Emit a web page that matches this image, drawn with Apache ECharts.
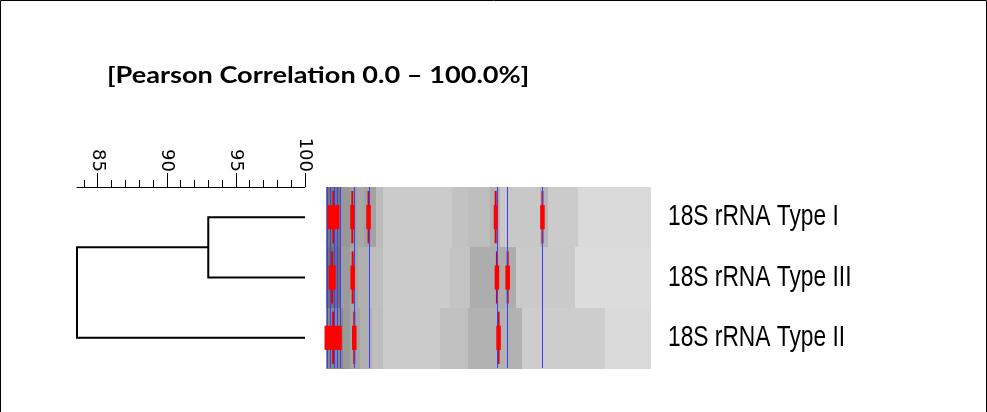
<!DOCTYPE html>
<html>
<head>
<meta charset="utf-8">
<script src="https://cdn.jsdelivr.net/npm/echarts@6/dist/echarts.min.js"></script>
<style>html,body{margin:0;padding:0;background:#fff;overflow:hidden;}#c{width:987px;height:412px;}</style>
</head>
<body>
<div id="c"></div>
<script>
// ---------- data ----------
const titleText = '[Pearson Correlation 0.0 \u2013 100.0%]';
const leafLabels = ['18S rRNA Type I', '18S rRNA Type III', '18S rRNA Type II'];
// hclust-style merges (negative = leaf, 1-based display order; positive = earlier merge)
const mergeRows = [[-1, -2], [1, -3]];
const mergeHeights = [93.0, 83.5];           // similarity (%) of each merge
const scaleMin = 83.5, scaleMax = 100;
const minorTicks = [84, 85, 86, 87, 88, 89, 90, 91, 92, 93, 94, 95, 96, 97, 98, 99, 100];
const majorTicks = [85, 90, 95, 100];

// gel background densitometry: [lane, start %, end %, gray level]
const gelLane0 = [
  [0, 0, 4.6, 120], [0, 4.6, 7.4, 152], [0, 7.4, 9.5, 160], [0, 9.5, 11.7, 168],
  [0, 11.7, 15.4, 162], [0, 15.4, 17.5, 188], [0, 17.5, 38.8, 203], [0, 38.8, 43.7, 194],
  [0, 43.7, 50.5, 189], [0, 50.5, 53.5, 178], [0, 53.5, 65.8, 200], [0, 65.8, 68.3, 182],
  [0, 68.3, 77.5, 203], [0, 77.5, 100, 218]
];
const gelLane1 = [
  [1, 0, 4.6, 112], [1, 4.6, 7.4, 156], [1, 7.4, 9.8, 166], [1, 9.8, 13.5, 176],
  [1, 13.5, 17.5, 190], [1, 17.5, 38.2, 203], [1, 38.2, 44.3, 195], [1, 44.3, 58.5, 173],
  [1, 58.5, 76.6, 202], [1, 76.6, 100, 220]
];
const gelLane2 = [
  [2, 0, 5.2, 136], [2, 5.2, 7.4, 154], [2, 7.4, 10.5, 165], [2, 10.5, 14.2, 176],
  [2, 14.2, 17.5, 189], [2, 17.5, 35.1, 203], [2, 35.1, 43.7, 192], [2, 43.7, 60.3, 178],
  [2, 60.3, 85.8, 205], [2, 85.8, 100, 218]
];
// marked bands: [lane, position %, band width %]
const bands = [
  [0, 2.3, 3.6], [0, 8.1, 1.3], [0, 13.1, 1.4], [0, 52.2, 1.2], [0, 66.6, 1.4],
  [1, 1.9, 2.2], [1, 8.2, 1.4], [1, 52.6, 1.4], [1, 55.9, 1.4],
  [2, 2.2, 5.3], [2, 8.7, 1.4], [2, 53.1, 1.4]
];
// band classes (vertical reference lines), position %
const bandClasses = [0.3, 1.3, 2.4, 3.4, 4.4, 8.5, 13.1, 52.7, 55.8, 66.6];

// ---------- dendrogram segments ----------
function buildDendro() {
  const nodes = [];
  const segs = [];
  function pos(ref) {
    if (ref < 0) return { x: scaleMax, y: (-ref - 1) + 0.5 };
    return nodes[ref - 1];
  }
  mergeRows.forEach((row, i) => {
    const a = pos(row[0]), b = pos(row[1]);
    const h = mergeHeights[i];
    segs.push({ coords: [[a.x, a.y], [h, a.y], [h, b.y], [b.x, b.y]] });
    nodes.push({ x: h, y: (a.y + b.y) / 2 });
  });
  return segs;
}

const chart = echarts.init(document.getElementById('c'), null, { renderer: 'canvas' });

function laneH(api) { return api.size([0, 1])[1]; }

const option = {
  backgroundColor: '#ffffff',
  animation: false,
  tooltip: { show: false },
  grid: [
    { left: 77, top: 187, width: 228, height: 181 },
    { left: 326, top: 187, width: 325, height: 181 }
  ],
  xAxis: [
    { gridIndex: 0, type: 'value', position: 'top', min: scaleMin, max: scaleMax,
      axisLine: { show: true, lineStyle: { color: '#000', width: 1 } },
      axisTick: { show: true, customValues: minorTicks, length: 7, lineStyle: { color: '#000', width: 1 } },
      axisLabel: { show: false }, splitLine: { show: false } },
    { gridIndex: 0, type: 'value', position: 'top', min: scaleMin, max: scaleMax,
      axisLine: { show: false },
      axisTick: { show: true, customValues: majorTicks, length: 14, lineStyle: { color: '#000', width: 1 } },
      axisLabel: { show: true, customValues: majorTicks, rotate: 90, margin: 15,
        fontFamily: 'DejaVu Sans', fontSize: 18, color: '#000', hideOverlap: false },
      splitLine: { show: false } },
    { gridIndex: 1, type: 'value', min: 0, max: 100, show: false }
  ],
  yAxis: [
    { gridIndex: 0, type: 'value', min: 0, max: 3, inverse: true, show: false },
    { gridIndex: 1, type: 'category', data: leafLabels, inverse: true, position: 'right',
      axisLine: { show: false }, axisTick: { show: false }, splitLine: { show: false },
      axisLabel: { show: false } }
  ],
  series: [
    { type: 'lines', coordinateSystem: 'cartesian2d', xAxisIndex: 0, yAxisIndex: 0, polyline: true,
      data: buildDendro(), lineStyle: { color: '#000', width: 2, opacity: 1 }, silent: true, z: 5 },
    { type: 'custom', xAxisIndex: 2, yAxisIndex: 1, encode: { x: [1, 2], y: 0 }, silent: true, z: 1,
      data: gelLane0.concat(gelLane1, gelLane2),
      renderItem: function (params, api) {
        const lane = api.value(0), g = api.value(3);
        const p1 = api.coord([api.value(1), lane]);
        const p2 = api.coord([api.value(2), lane]);
        const h = laneH(api);
        const x1 = Math.round(p1[0]), x2 = Math.round(p2[0]);
        return { type: 'rect', shape: { x: x1, y: Math.round(p1[1] - h / 2), width: x2 - x1, height: Math.round(h) + 1 },
          style: { fill: 'rgb(' + g + ',' + g + ',' + g + ')' } };
      } },
    { type: 'custom', xAxisIndex: 2, yAxisIndex: 1, encode: { x: 1, y: 0 }, silent: true, z: 2,
      data: bands,
      renderItem: function (params, api) {
        const lane = api.value(0);
        const p = api.coord([api.value(1), lane]);
        const h = laneH(api);
        return { type: 'rect', shape: { x: p[0] - 1, y: p[1] - h * 0.433, width: 2, height: h * 0.866 },
          style: { fill: '#e00000' } };
      } },
    { type: 'custom', xAxisIndex: 2, yAxisIndex: 1, encode: { x: 0, y: 1 }, silent: true, z: 3,
      data: bandClasses.map(v => [v, 0]),
      renderItem: function (params, api) {
        const top = api.coord([api.value(0), 0]);
        const bot = api.coord([api.value(0), 2]);
        const h = laneH(api);
        const x = Math.round(top[0]) + 0.5;
        return { type: 'line', shape: { x1: x, y1: top[1] - h / 2, x2: x, y2: bot[1] + h / 2 },
          style: { stroke: '#3c3cff', lineWidth: 1 } };
      } },
    { type: 'custom', xAxisIndex: 2, yAxisIndex: 1, encode: { x: 1, y: 0 }, silent: true, z: 4,
      data: bands,
      renderItem: function (params, api) {
        const lane = api.value(0);
        const p = api.coord([api.value(1), lane]);
        const w = api.size([api.value(2), 0])[0];
        const h = laneH(api);
        return { type: 'rect', shape: { x: p[0] - w / 2, y: p[1] - h * 0.2, width: w, height: h * 0.4 },
          style: { fill: '#ff0000' } };
      } }
  ]
};
chart.setOption(option);

// Text elements: title and lane labels (labels placed at the lane centres from the category axis)
const graphics = [
  { type: 'polyline', shape: { points: [[0.5, 412], [0.5, 0.5], [986.5, 0.5], [986.5, 412]] },
    style: { stroke: '#000', lineWidth: 1, fill: null }, silent: true },
  { type: 'text', x: 107, y: 76, scaleX: 1.18, silent: true,
    style: { text: titleText, font: 'bold 23px Lato', fill: '#000', verticalAlign: 'middle', align: 'left' } }
];
leafLabels.forEach((lab, i) => {
  const p = chart.convertToPixel({ xAxisIndex: 2, yAxisIndex: 1 }, [100, i]);
  graphics.push({ type: 'text', x: p[0] + 17, y: p[1], scaleX: 0.785, silent: true,
    style: { text: lab, font: '29px "Liberation Sans", Arial, sans-serif', fill: '#000', verticalAlign: 'middle', align: 'left' } });
});
chart.setOption({ graphic: graphics });
</script>
</body>
</html>
